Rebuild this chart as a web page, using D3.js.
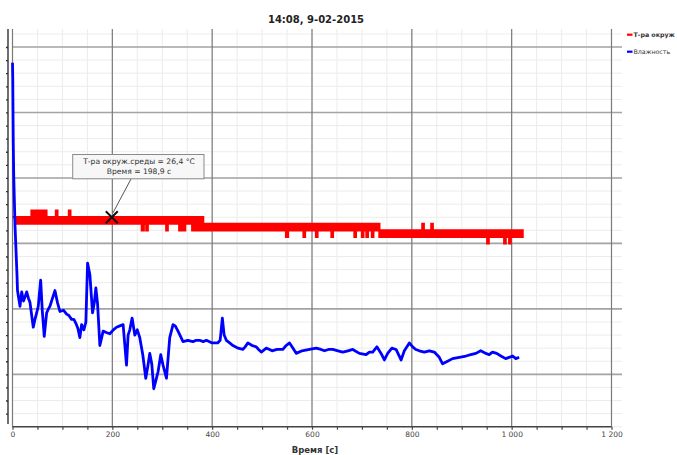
<!DOCTYPE html>
<html><head><meta charset="utf-8">
<script src="https://cdn.jsdelivr.net/npm/d3@7/dist/d3.min.js"></script>
<style>html,body{margin:0;padding:0;background:#fff;overflow:hidden}</style>
</head><body>
<svg id="c" width="677" height="455"></svg>
<script>
// ---- data ----
const titleText = "14:08, 9-02-2015";
const xLabel = "Время [с]";
const seriesNames = ["Т-ра окруж", "Влажность"];
const xMajorTicks = [0, 200, 400, 600, 800, 1000, 1200];
const xTickLabels = ["0", "200", "400", "600", "800", "1 000", "1 200"];

// humidity (blue), time [s] and value [%]
const humT = [0, 0.5, 1.5, 2.5, 5, 9, 10, 15, 18.4, 22, 25, 28.4, 32, 35, 41.6, 45, 48.4, 51.6, 56.4, 59.6, 63.6, 68.4, 72, 75, 80, 85, 90, 95, 102, 108.4, 113, 118.4, 123, 127, 131, 135, 138.4, 143, 147, 150.4, 155, 160.4, 164, 167, 170.4, 175, 181.6, 188, 195, 202, 208.4, 215, 221.6, 228.4, 231.6, 235, 239.6, 245, 250, 255, 261, 267, 271, 275, 279, 283, 287, 291.6, 297, 301.6, 305, 308.4, 315, 321.6, 326, 331.6, 341.6, 351, 361.6, 368, 375, 382, 388.4, 400, 411, 416, 420.4, 424, 428.4, 435, 441.6, 452, 461.6, 466, 471.6, 480, 488.4, 493, 498.4, 508.4, 515, 520, 530, 541.6, 548, 555, 562, 568.4, 580, 595, 608.4, 618, 625, 633, 641.6, 652, 661.6, 672, 681.6, 695, 708.4, 715, 721.6, 730, 738.4, 745, 751.6, 760, 768.4, 778.4, 785, 795, 801.6, 808, 815, 825, 835, 845, 855, 861.6, 871.6, 881.6, 895, 908.4, 918, 928.4, 938, 948.4, 955, 961.6, 970, 978.4, 988, 995, 1002, 1008.4, 1015, 1021.6];
const humV = [57.8, 56.6, 51.7, 49.1, 45.4, 41.6, 40.4, 39.2, 40.3, 39.6, 39.9, 40.3, 39.8, 39.5, 37.6, 38.2, 38.7, 39.2, 41.2, 38.9, 36.9, 38.7, 39.0, 39.2, 39.8, 40.4, 39.5, 38.8, 38.9, 38.6, 38.5, 38.2, 38.2, 37.9, 37.5, 36.8, 37.8, 37.4, 38.0, 42.5, 41.6, 38.7, 39.5, 40.6, 39.4, 36.2, 37.3, 37.2, 37.1, 37.4, 37.6, 37.7, 37.8, 34.7, 37.0, 37.4, 38.3, 37.0, 37.4, 36.8, 35.5, 33.7, 34.6, 35.6, 34.8, 32.9, 33.5, 34.2, 35.5, 34.7, 34.2, 33.7, 36.8, 37.8, 37.7, 37.3, 36.5, 36.6, 36.5, 36.6, 36.6, 36.5, 36.6, 36.4, 36.4, 36.6, 38.3, 37.0, 36.6, 36.4, 36.2, 36.0, 35.9, 36.1, 36.4, 36.2, 36.1, 35.9, 35.7, 36.0, 35.9, 35.8, 35.9, 35.9, 36.2, 36.4, 36.0, 35.6, 35.8, 35.9, 36.0, 35.9, 35.8, 35.9, 35.9, 35.8, 35.7, 35.8, 35.9, 35.6, 35.5, 35.7, 35.7, 36.1, 35.6, 35.1, 35.6, 36.0, 35.9, 35.1, 35.8, 36.4, 36.1, 35.9, 35.8, 35.7, 35.8, 35.7, 35.3, 34.8, 35.0, 35.2, 35.3, 35.4, 35.5, 35.6, 35.8, 35.6, 35.5, 35.7, 35.6, 35.4, 35.2, 35.3, 35.4, 35.2, 35.3];

// ambient temperature (red): envelope of readings, step start time [s], max and min [°C]
const tempT   = [0, 8, 38, 46, 50, 58, 62, 68, 87, 90, 113, 116, 259, 263, 268, 271, 308, 311, 334, 339, 343, 346, 360, 363, 367, 370, 374, 378, 382, 548, 552, 583, 586, 608, 611, 639, 642, 685, 688, 700, 703, 709, 712, 720, 723, 735, 821, 824, 839, 842, 951, 954, 985, 988, 995, 998, 1022];
const tempMax = [26.4, 26.4, 26.5, 26.4, 26.5, 26.4, 26.5, 26.4, 26.5, 26.4, 26.5, 26.4, 26.4, 26.4, 26.4, 26.4, 26.4, 26.4, 26.4, 26.4, 26.4, 26.4, 26.4, 26.4, 26.4, 26.4, 26.4, 26.4, 26.3, 26.3, 26.3, 26.3, 26.3, 26.3, 26.3, 26.3, 26.3, 26.3, 26.3, 26.3, 26.3, 26.3, 26.3, 26.3, 26.3, 26.2, 26.3, 26.2, 26.3, 26.2, 26.2, 26.2, 26.2, 26.2, 26.2, 26.2, 26.2];
const tempMin = [26.4, 26.3, 26.3, 26.3, 26.3, 26.3, 26.3, 26.3, 26.3, 26.3, 26.3, 26.3, 26.2, 26.3, 26.2, 26.3, 26.2, 26.3, 26.2, 26.3, 26.2, 26.3, 26.2, 26.3, 26.2, 26.3, 26.2, 26.3, 26.2, 26.1, 26.2, 26.1, 26.2, 26.1, 26.2, 26.1, 26.2, 26.1, 26.2, 26.1, 26.2, 26.1, 26.2, 26.1, 26.2, 26.1, 26.1, 26.1, 26.1, 26.1, 26.0, 26.1, 26.0, 26.1, 26.0, 26.1, 26.1];

// cursor readout
const cursorT = 198.9, cursorV = 26.4;
const cursorLines = ["Т-ра окруж.среды = 26,4 °C", "Время = 198,9 с"];

// ---- layout ----
const svg = d3.select("#c");
const L = 12.5, R = 611.5, T = 29, B = 426.7;
const x = d3.scaleLinear().domain([0, 1200]).range([L, R]);
const yT = d3.scaleLinear().domain([23.2, 29.275]).range([B, T]);
const yH = d3.scaleLinear().domain([30, 60.38]).range([B, T]);

const font = "'DejaVu Sans', Verdana, sans-serif";

// minor grid
const g = svg.append("g");
const minorX = d3.range(0, 1201, 50);
const minorY = d3.range(23.2, 29.28, 0.2);
g.selectAll(".mx").data(minorX).enter().append("line")
  .attr("x1", d => x(d)).attr("x2", d => x(d)).attr("y1", T).attr("y2", B)
  .attr("stroke", "#ececec").attr("stroke-width", 1);
g.selectAll(".my").data(minorY).enter().append("line")
  .attr("x1", L).attr("x2", 622).attr("y1", d => yT(d)).attr("y2", d => yT(d))
  .attr("stroke", "#ececec").attr("stroke-width", 1);
// major grid
const majorY = [24, 25, 26, 27, 28, 29];
g.selectAll(".My").data(majorY).enter().append("line")
  .attr("x1", L).attr("x2", 622).attr("y1", d => yT(d)).attr("y2", d => yT(d))
  .attr("stroke", "#a4a4a4").attr("stroke-width", 1.6);
g.selectAll(".Mx").data(xMajorTicks).enter().append("line")
  .attr("x1", d => x(d)).attr("x2", d => x(d)).attr("y1", T).attr("y2", B)
  .attr("stroke", "#7a7a7a").attr("stroke-width", 1.2);

// left axis (no labels)
const yAxis = d3.axisLeft(yT).tickValues(minorY.filter(v => v < 29.2 && v > 23.3)).tickSize(2).tickFormat("");
const ya = svg.append("g").attr("transform", "translate(8,0)").call(yAxis);
ya.select(".domain").remove();
ya.selectAll(".tick line").attr("stroke", "#333").attr("stroke-width", 1.3);
svg.append("line").attr("x1", 8).attr("x2", 8).attr("y1", T).attr("y2", 424)
  .attr("stroke", "#333").attr("stroke-width", 1.4);

// bottom axis
const xAxis = d3.axisBottom(x).tickValues(minorX).tickSize(3)
  .tickFormat(d => { const i = xMajorTicks.indexOf(d); return i >= 0 ? xTickLabels[i] : ""; });
const xa = svg.append("g").attr("transform", `translate(0,${B})`).call(xAxis);
xa.select(".domain").attr("stroke", "#444").attr("stroke-width", 1.5).attr("d", `M${L},0H${R}`);
xa.selectAll(".tick line").attr("stroke", "#444").attr("stroke-width", 1.2);
xa.selectAll(".tick text").attr("font-family", font).attr("font-size", "7.5px").attr("fill", "#444").attr("dy", "0.6em");

// red temperature band
const tempData = tempT.map((t, i) => ({ t, hi: tempMax[i], lo: tempMin[i] }));
const area = d3.area().curve(d3.curveStepAfter)
  .x(d => x(d.t)).y0(d => yT(d.lo)).y1(d => yT(d.hi));
svg.append("path").datum(tempData).attr("d", area)
  .attr("fill", "#ff0000").attr("stroke", "#ff0000").attr("stroke-width", 2.2).attr("stroke-linejoin", "miter");

// blue humidity line
const humData = humT.map((t, i) => ({ t, v: humV[i] }));
svg.append("path").datum(humData)
  .attr("d", d3.line().x(d => x(d.t)).y(d => yH(d.v)))
  .attr("fill", "none").attr("stroke", "#0000ff").attr("stroke-width", 2.8).attr("stroke-linejoin", "round");

// cursor marker
const cx = x(cursorT), cy = yT(cursorV);
svg.append("line").attr("x1", 131).attr("y1", 179).attr("x2", cx + 1).attr("y2", cy - 4)
  .attr("stroke", "#555").attr("stroke-width", 1);
svg.append("path").attr("d", `M${cx-6},${cy-6}L${cx+6},${cy+6}M${cx-6},${cy+6}L${cx+6},${cy-6}`)
  .attr("stroke", "#111").attr("stroke-width", 2);
svg.append("rect").attr("x", 72.7).attr("y", 154.5).attr("width", 131.3).attr("height", 24.3)
  .attr("fill", "#f7f7f7").attr("stroke", "#8a8a8a").attr("stroke-width", 1);
svg.selectAll(".tt").data(cursorLines).enter().append("text")
  .attr("x", 139).attr("y", (d, i) => 164.3 + i * 10)
  .attr("text-anchor", "middle").attr("font-family", font).attr("font-size", "7.6px").attr("fill", "#333")
  .text(d => d);

// title
svg.append("text").attr("x", 316).attr("y", 23).attr("text-anchor", "middle")
  .attr("font-family", font).attr("font-weight", "bold").attr("font-size", "10px").attr("fill", "#222")
  .text(titleText);
// x label
svg.append("text").attr("x", 315).attr("y", 453).attr("text-anchor", "middle")
  .attr("font-family", font).attr("font-weight", "bold").attr("font-size", "8.5px").attr("fill", "#333")
  .text(xLabel);

// legend
const legColors = ["#ff0000", "#0000ff"];
const lg = svg.selectAll(".lg").data(seriesNames).enter().append("g")
  .attr("transform", (d, i) => `translate(627,${34.7 + i * 17})`);
lg.append("line").attr("x1", 0).attr("x2", 5.5).attr("y1", 0).attr("y2", 0)
  .attr("stroke", (d, i) => legColors[i]).attr("stroke-width", 2.2);
lg.append("text").attr("x", 6.5).attr("y", 2.3).attr("font-family", font)
  .attr("font-size", "6.3px").attr("font-weight", (d, i) => i === 0 ? "bold" : "normal").attr("fill", "#333")
  .text(d => d);
</script>
</body></html>
